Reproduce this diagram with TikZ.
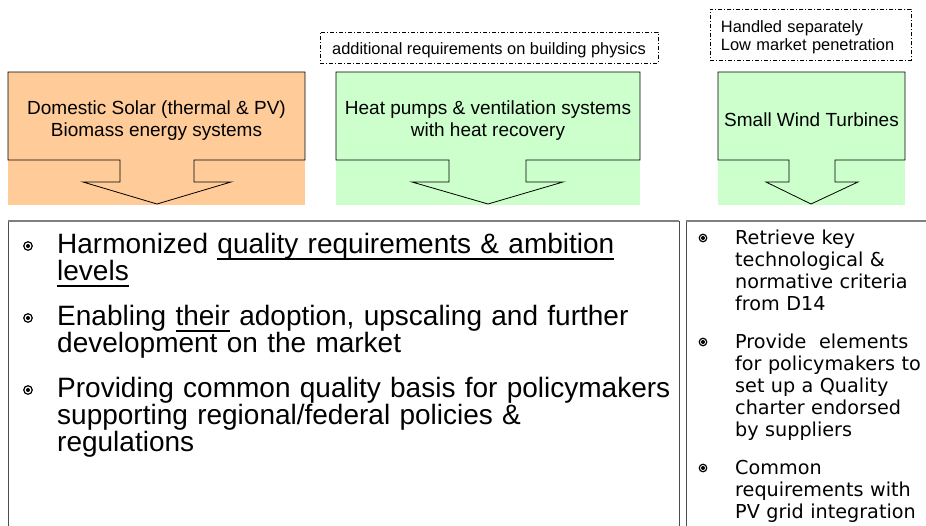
\documentclass[tikz,border=0pt]{standalone}
\usepackage{fontspec}
\setmainfont{Liberation Sans}
\newfontfamily\dejavu{DejaVu Sans}
\definecolor{solarfill}{HTML}{FFCC99}
\definecolor{greenfill}{HTML}{CCFFCC}
\newsavebox{\undlbox}
\newcommand{\undl}[1]{\leavevmode\sbox{\undlbox}{#1}\rlap{\smash{\rule[-6.6pt]{\wd\undlbox}{1.8pt}}}\usebox{\undlbox}}
\begin{document}
\begin{tikzpicture}[x=1pt,y=-1pt,
	toptext/.style={inner sep=0pt, align=center, font=\fontsize{19}{22}\selectfont},
	note/.style={draw, line width=0.9pt, dash pattern=on 4pt off 2pt on 1pt off 2pt, inner xsep=0pt, inner ysep=0pt, font=\fontsize{16.4}{18}\selectfont},
	bul/.style={circle, draw, line width=1.2pt, inner sep=0pt, minimum size=#1, path picture={\fill (path picture bounding box.center) circle (2pt);}},
	item/.style={anchor=north west, inner sep=0pt, text height=20pt, text width=620pt, align=left, font=\fontsize{28}{26}\selectfont},
	ritem/.style={anchor=north west, inner sep=0pt, text height=15pt, text width=200pt, align=left, font=\dejavu\fontsize{19.2}{22}\selectfont}]
	\useasboundingbox (0,0) rectangle (926,525);
	
	%notes above the boxes
	\node[note, minimum width=338pt, text height=17pt, text depth=4pt, inner ysep=5pt] (physics) at (489,47.5) {additional requirements on building physics};
	\node[note, anchor=north west, text width=180pt, inner xsep=10.5pt, text height=23pt, text depth=28pt, align=left] (separate) at (710,9) {Handled separately\\Low market penetration};
	
	%technology boxes
	\fill[solarfill] (8,72) rectangle (305,205);
	\draw[line width=0.8pt] (8,72) -- (305,72) -- (305,160) -- (194,160) -- (194,182) -- (231,182) -- (157,204) -- (83,182) -- (120,182) -- (120,160) -- (8,160) -- cycle;
	\node[toptext] (solar) at (156.5,121) {Domestic Solar (thermal \& PV)\\Biomass energy systems};
	
	\fill[greenfill] (336,72) rectangle (640,205);
	\draw[line width=0.8pt] (336,72) -- (640,72) -- (640,160) -- (526,160) -- (526,182) -- (563,182) -- (488,204) -- (412,182) -- (449,182) -- (449,160) -- (336,160) -- cycle;
	\node[toptext] (heatpumps) at (488,121) {Heat pumps \& ventilation systems\\with heat recovery};
	
	\fill[greenfill] (718,72) rectangle (905,205);
	\draw[line width=0.8pt] (718,72) -- (905,72) -- (905,160) -- (835,160) -- (835,182) -- (858,182) -- (811,204) -- (766,182) -- (789,182) -- (789,160) -- (718,160) -- cycle;
	\node[toptext] (wind) at (811.5,120) {Small Wind Turbines};
	
	%lower boxes
	\draw[gray!60!black, line width=0.8pt] (8,530) |- (679,221) -- (679,530);
	\draw[gray, line width=1.6pt] (8,221) -- (679,221);
	\draw[gray!60!black, line width=0.8pt] (686,530) |- (930,221);
	\draw[gray, line width=1.6pt] (686,221) -- (930,221);
	
	\node[bul=8.5pt] (b1) at (28,246) {};
	\node[item] (quality) at (57,233) {Harmonized \undl{quality requirements \& ambition}\\\undl{levels}};
	\node[bul=8.5pt] (b2) at (28,318) {};
	\node[item] (adoption) at (57,305) {Enabling \undl{their} adoption, upscaling and further\\development on the market};
	\node[bul=8.5pt] (b3) at (28,390) {};
	\node[item] (policy) at (57,377) {Providing common quality basis for policymakers\\supporting regional/federal policies \&\\regulations};
	
	\node[bul=7.5pt] (r1) at (703,238) {};
	\node[ritem] (retrieve) at (735,229) {Retrieve key\\technological \&\\normative criteria\\from D14};
	\node[bul=7.5pt] (r2) at (703,342) {};
	\node[ritem] (charter) at (735,333) {Provide~ elements\\for policymakers to\\set up a Quality\\charter endorsed\\by suppliers};
	\node[bul=7.5pt] (r3) at (703,468) {};
	\node[ritem] (grid) at (735,459) {Common\\requirements with\\PV grid integration};
\end{tikzpicture}
\end{document}
